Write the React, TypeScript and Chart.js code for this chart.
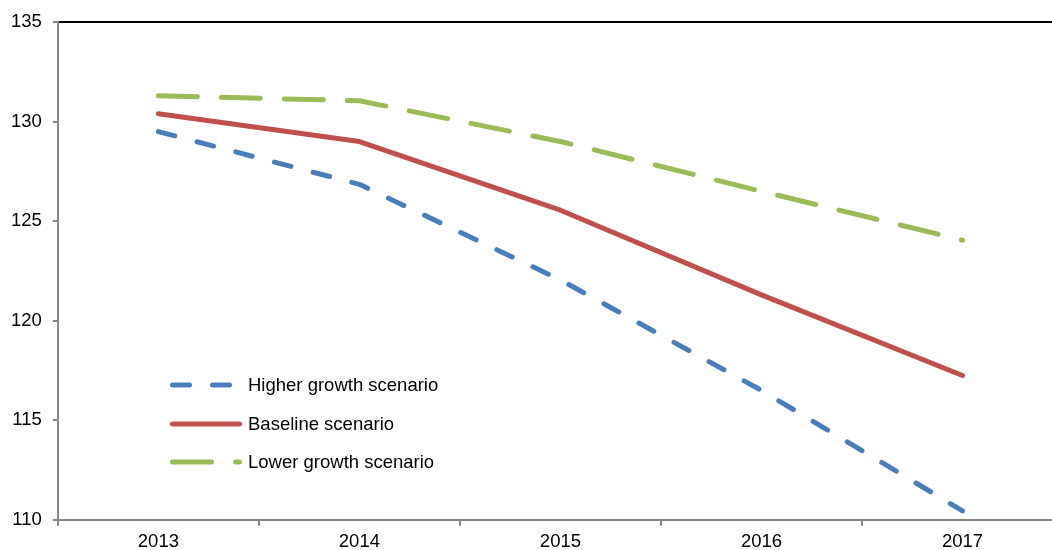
import React, { useEffect, useRef } from "react";
import { Chart, registerables } from "chart.js";

Chart.register(...registerables);

const years = ["2013", "2014", "2015", "2016", "2017"];
const higherGrowth = [129.5, 126.85, 122.05, 116.5, 110.45];
const baseline = [130.4, 129.0, 125.55, 121.3, 117.25];
const lowerGrowth = [131.3, 131.05, 129.0, 126.5, 124.05];
const yTicks = [110, 115, 120, 125, 130, 135];

const seriesLabels = ["Higher growth scenario", "Baseline scenario", "Lower growth scenario"];
const seriesColors = ["#4A7EBB", "#C0504D", "#9BBB59"];
const seriesDashes: number[][] = [[17, 23], [], [39, 24]];

const FONT = "'Liberation Sans', Arial, sans-serif";
const FONT_SIZE = 18.5;

const legendPlugin = {
  id: "innerLegend",
  afterDatasetsDraw(chart: any) {
    const ctx = chart.ctx as CanvasRenderingContext2D;
    const rows = [385, 424, 462];
    chart.data.datasets.forEach((ds: any, i: number) => {
      const y = rows[i];
      ctx.save();
      ctx.strokeStyle = ds.borderColor;
      ctx.lineWidth = ds.borderWidth;
      ctx.lineCap = "round";
      ctx.setLineDash(ds.borderDash || []);
      ctx.beginPath();
      ctx.moveTo(172.5, y);
      ctx.lineTo(239.5, y);
      ctx.stroke();
      ctx.setLineDash([]);
      ctx.fillStyle = "#000";
      ctx.font = `${FONT_SIZE}px ${FONT}`;
      ctx.textBaseline = "middle";
      ctx.textAlign = "left";
      ctx.fillText(ds.label, 248, y + 1);
      ctx.restore();
    });
  },
};

export default function App() {
  const ref = useRef<HTMLCanvasElement | null>(null);
  useEffect(() => {
    if (!ref.current) return;
    const seriesData = [higherGrowth, baseline, lowerGrowth];
    const chart = new Chart(ref.current, {
      type: "line",
      data: {
        labels: years,
        datasets: seriesData.map((d, i) => ({
          label: seriesLabels[i],
          data: d,
          borderColor: seriesColors[i],
          backgroundColor: seriesColors[i],
          borderWidth: 5,
          borderDash: seriesDashes[i],
          borderCapStyle: "round" as const,
          borderJoinStyle: "round" as const,
          pointRadius: 0,
          tension: 0,
          fill: false,
        })),
      },
      options: {
        animation: false,
        responsive: true,
        maintainAspectRatio: false,
        layout: { padding: { top: 14.5, right: 10, left: 0, bottom: 0 } },
        plugins: { legend: { display: false }, tooltip: { enabled: false } },
        scales: {
          x: {
            type: "category",
            offset: true,
            grid: {
              offset: true,
              drawOnChartArea: false,
              tickColor: "#868686",
              tickLength: 6,
              lineWidth: 2,
            },
            border: { color: "#868686", width: 2 },
            ticks: { color: "#000", font: { family: FONT, size: FONT_SIZE }, padding: 5 },
          },
          y: {
            min: 110,
            max: 135,
            afterBuildTicks: (axis: any) => {
              axis.ticks = yTicks.map((v) => ({ value: v }));
            },
            grid: {
              color: (c: any) => (c.tick && c.tick.value === 135 ? "#000" : "rgba(0,0,0,0)"),
              tickColor: "#868686",
              tickLength: 5,
              lineWidth: 2,
            },
            border: { color: "#868686", width: 2 },
            ticks: { color: "#000", font: { family: FONT, size: FONT_SIZE }, padding: 11 },
          },
        },
      },
      plugins: [legendPlugin],
    });
    return () => chart.destroy();
  }, []);
  return (
    <div style={{ position: "fixed", left: 0, top: 0, width: 1073, height: 558, background: "#fff" }}>
      <canvas ref={ref} />
    </div>
  );
}
